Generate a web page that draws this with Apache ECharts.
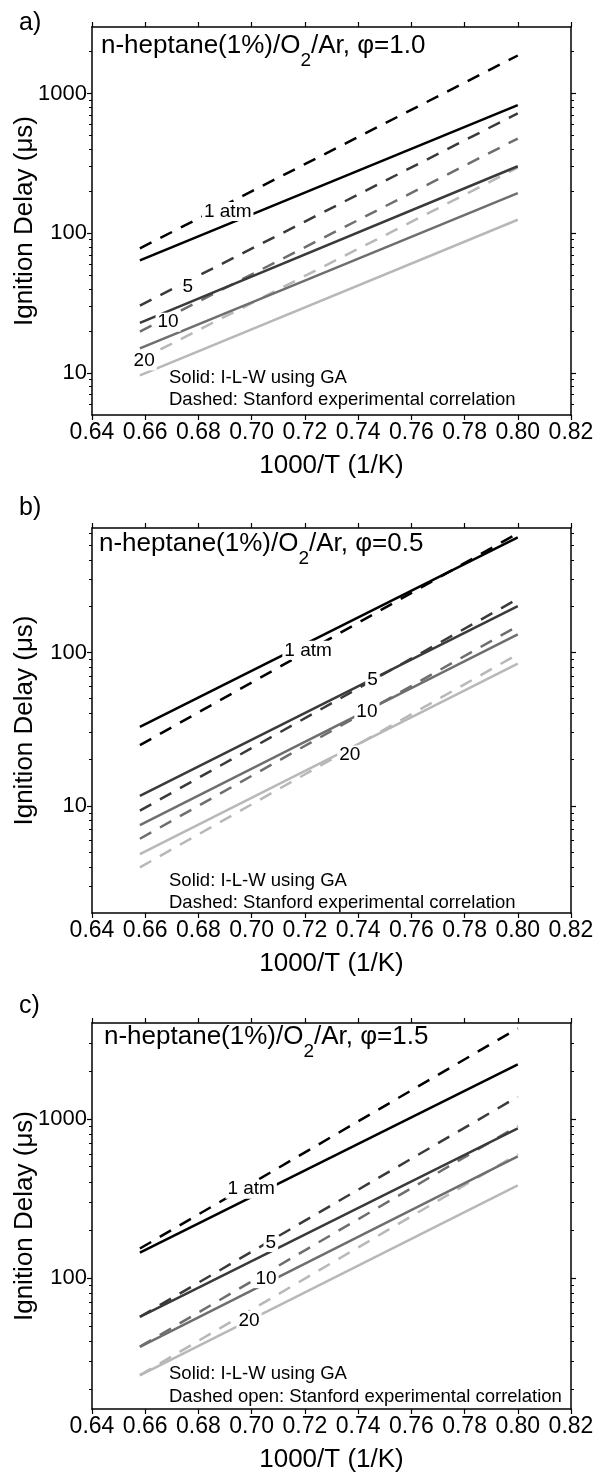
<!DOCTYPE html>
<html>
<head>
<meta charset="utf-8">
<script src="https://cdn.jsdelivr.net/npm/echarts@6/dist/echarts.min.js"></script>
<style>
    html, body { margin: 0; padding: 0; background: #fff; }
    #chart { width: 593px; height: 1477px; }
</style>
</head>
<body>
<div id="chart"></div>
<script>
// 1000/T range covered by every curve
const xRange = [0.658, 0.80];
const xTicks = { min: 0.64, max: 0.82, interval: 0.02 };
const pressureLabels = ['1 atm', '5', '10', '20'];
const lineColors = ['#000000', '#3a3a3a', '#6e6e6e', '#b8b8b8'];

// a) phi = 1.0   (values in microseconds at xRange[0] and xRange[1])
const aSolidStart = [64, 22.8, 15.0, 9.6];
const aSolidEnd = [828, 302, 194, 125];
const aDashStart = [78, 30.4, 19.8, 12.4];
const aDashEnd = [1875, 723, 477, 295];
const aLabelX = [0.691, 0.676, 0.6686, 0.6596];
const aLabelY = [143, 41.2, 23.1, 12.2];
const aYRange = [5, 3000];
const aYLabels = [10, 100, 1000];

// b) phi = 0.5
const bSolidStart = [32.8, 11.6, 7.5, 4.85];
const bSolidEnd = [565, 201, 131.6, 84.8];
const bDashStart = [24.9, 9.3, 6.1, 3.97];
const bDashEnd = [600, 224, 149, 97.5];
const bLabelX = [0.7212, 0.7454, 0.7433, 0.7369];
const bLabelY = [103.5, 66, 41, 21.5];
const bYRange = [2, 650];
const bYLabels = [10, 100];

// c) phi = 1.5
const cSolidStart = [144, 56.9, 36.8, 24.4];
const cSolidEnd = [2197, 870, 580, 382];
const cDashStart = [153, 57, 37, 24.5];
const cDashEnd = [3700, 1375, 900, 600];
const cLabelX = [0.6998, 0.7072, 0.7054, 0.699];
const cLabelY = [361, 167, 99, 54];
const cYRange = [15, 4000];
const cYLabels = [100, 1000];

const FONT = '"Liberation Sans", Arial, sans-serif';

// panel layout (pixels)
const panels = [
    { letter: 'a)', phi: '1.0', top: 27, height: 388, letterY: 25, titleX: 101, titleY: 33,
      note1Y: 378, note2Y: 400, note2: 'Dashed: Stanford experimental correlation',
      solidStart: aSolidStart, solidEnd: aSolidEnd, dashStart: aDashStart, dashEnd: aDashEnd,
      labelX: aLabelX, labelY: aLabelY, yRange: aYRange, yLabels: aYLabels },
    { letter: 'b)', phi: '0.5', top: 528, height: 385, letterY: 510, titleX: 99, titleY: 531,
      note1Y: 881, note2Y: 903, note2: 'Dashed: Stanford experimental correlation',
      solidStart: bSolidStart, solidEnd: bSolidEnd, dashStart: bDashStart, dashEnd: bDashEnd,
      labelX: bLabelX, labelY: bLabelY, yRange: bYRange, yLabels: bYLabels },
    { letter: 'c)', phi: '1.5', top: 1023, height: 386, letterY: 1008, titleX: 104, titleY: 1024,
      note1Y: 1374, note2Y: 1397, note2: 'Dashed open: Stanford experimental correlation',
      solidStart: cSolidStart, solidEnd: cSolidEnd, dashStart: cDashStart, dashEnd: cDashEnd,
      labelX: cLabelX, labelY: cLabelY, yRange: cYRange, yLabels: cYLabels }
];

// minor log ticks (2..9 of each decade) inside the range
function minorTicks(range) {
    const out = [];
    for (let d = 0.1; d <= 10000; d *= 10) {
        for (let m = 2; m <= 9; m++) {
            const v = +(m * d).toPrecision(3);
            if (v > range[0] && v < range[1]) out.push(v);
        }
    }
    return out;
}

const axisLineStyle = { show: true, lineStyle: { color: '#000', width: 1.5 } };

const grids = [], xAxes = [], yAxes = [], series = [], graphics = [];

panels.forEach((p, i) => {
    grids.push({ left: 92, right: 22, top: p.top, height: p.height, outerBoundsMode: 'none' });

    // bottom and top x axes
    xAxes.push({
        type: 'value', gridIndex: i, position: 'bottom', ...xTicks,
        name: '1000/T (1/K)', nameLocation: 'middle', nameGap: 38, nameMoveOverlap: false,
        nameTextStyle: { fontSize: 26, color: '#000', fontFamily: FONT },
        axisLine: axisLineStyle, splitLine: { show: false },
        axisTick: { length: 5, lineStyle: { color: '#000', width: 1.2 } },
        axisLabel: { fontSize: 23, color: '#000', fontFamily: FONT, margin: 6,
                     formatter: v => v.toFixed(2) }
    });
    xAxes.push({
        type: 'value', gridIndex: i, position: 'top', ...xTicks,
        axisLine: axisLineStyle, splitLine: { show: false },
        axisTick: { length: 5, lineStyle: { color: '#000', width: 1.2 } },
        axisLabel: { show: false }
    });

    const minors = minorTicks(p.yRange);
    // left: major with labels, then minor
    yAxes.push({
        type: 'log', gridIndex: i, position: 'left', min: p.yRange[0], max: p.yRange[1],
        name: 'Ignition Delay (μs)', nameLocation: 'middle', nameGap: 54, nameMoveOverlap: false,
        nameTextStyle: { fontSize: 26, color: '#000', fontFamily: FONT },
        axisLine: axisLineStyle, splitLine: { show: false },
        axisTick: { length: 5, customValues: p.yLabels, lineStyle: { color: '#000', width: 1.2 } },
        axisLabel: { fontSize: 22, color: '#000', fontFamily: FONT, margin: 5,
                     customValues: p.yLabels, formatter: v => String(v) }
    });
    yAxes.push({
        type: 'log', gridIndex: i, position: 'left', min: p.yRange[0], max: p.yRange[1],
        axisLine: { show: false }, splitLine: { show: false }, axisLabel: { show: false },
        axisTick: { length: 3, customValues: minors, lineStyle: { color: '#000', width: 1 } }
    });
    // right: mirror
    yAxes.push({
        type: 'log', gridIndex: i, position: 'right', min: p.yRange[0], max: p.yRange[1],
        axisLine: axisLineStyle, splitLine: { show: false }, axisLabel: { show: false },
        axisTick: { length: 5, customValues: p.yLabels, lineStyle: { color: '#000', width: 1.2 } }
    });
    yAxes.push({
        type: 'log', gridIndex: i, position: 'right', min: p.yRange[0], max: p.yRange[1],
        axisLine: { show: false }, splitLine: { show: false }, axisLabel: { show: false },
        axisTick: { length: 3, customValues: minors, lineStyle: { color: '#000', width: 1 } }
    });

    // dashed: Stanford correlation, solid: I-L-W using GA
    for (let k = 0; k < 4; k++) {
        series.push({
            type: 'line', xAxisIndex: 2 * i, yAxisIndex: 4 * i, silent: true, showSymbol: false,
            data: [[xRange[0], p.dashStart[k]], [xRange[1], p.dashEnd[k]]],
            lineStyle: { color: lineColors[k], width: 2.5, type: [13, 10] }, z: 2
        });
    }
    for (let k = 0; k < 4; k++) {
        series.push({
            type: 'line', xAxisIndex: 2 * i, yAxisIndex: 4 * i, silent: true, showSymbol: false,
            data: [[xRange[0], p.solidStart[k]], [xRange[1], p.solidEnd[k]]],
            lineStyle: { color: lineColors[k], width: 2.5 }, z: 3
        });
    }
    // pressure labels (white box hides the lines behind the text)
    series.push({
        type: 'scatter', xAxisIndex: 2 * i, yAxisIndex: 4 * i, silent: true, z: 5,
        symbolSize: 1, itemStyle: { color: '#fff', opacity: 1 },
        data: pressureLabels.map((name, k) => ({ name, value: [p.labelX[k], p.labelY[k]] })),
        label: { show: true, position: 'inside', formatter: '{b}', fontSize: 19, color: '#000',
                 fontFamily: FONT, backgroundColor: '#fff', padding: [0, 2],
                 textBorderWidth: 0, opacity: 1 }
    });

    graphics.push({
        type: 'text', left: 19, top: p.letterY - 14,
        style: { text: p.letter, fontSize: 25, fill: '#000', fontFamily: FONT }
    });
    graphics.push({
        type: 'text', left: p.titleX, top: p.titleY,
        style: {
            text: '{a|n-heptane(1%)/O}{s|2}{a|/Ar, φ=' + p.phi + '}',
            fill: '#000', fontFamily: FONT,
            rich: {
                a: { fontSize: 26, lineHeight: 30, verticalAlign: 'top', fontFamily: FONT, color: '#000' },
                s: { fontSize: 19, lineHeight: 19, verticalAlign: 'top', padding: [18, 0, 0, 0],
                     fontFamily: FONT, color: '#000' }
            }
        }
    });
    graphics.push({
        type: 'text', left: 169, top: p.note1Y - 10,
        style: { text: 'Solid: I-L-W using GA', fontSize: 18.5, fill: '#000', fontFamily: FONT }
    });
    graphics.push({
        type: 'text', left: 169, top: p.note2Y - 10,
        style: { text: p.note2, fontSize: 18.5, fill: '#000', fontFamily: FONT }
    });
});

const chart = echarts.init(document.getElementById('chart'), null, { renderer: 'canvas' });
chart.setOption({
    backgroundColor: '#fff',
    animation: false,
    textStyle: { fontFamily: FONT },
    grid: grids,
    xAxis: xAxes,
    yAxis: yAxes,
    series: series,
    graphic: graphics
});
</script>
</body>
</html>
